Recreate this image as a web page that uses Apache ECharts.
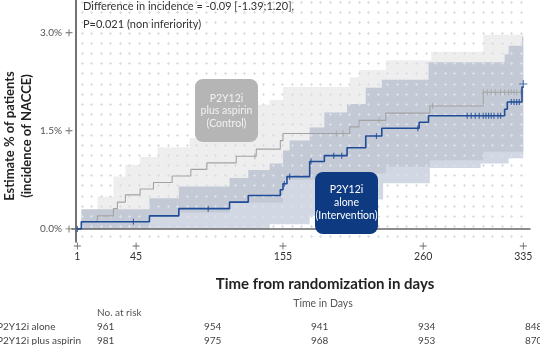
<!DOCTYPE html>
<html><head><meta charset="utf-8">
<script src="https://cdn.jsdelivr.net/npm/echarts@6/dist/echarts.min.js"></script>
<style>html,body{margin:0;padding:0;background:#fff}#c{width:540px;height:345px}</style>
</head><body><div id="c"></div>
<script>
// ---- data ----
const xTicks = [1, 45, 155, 260, 335];
const yTicks = [0, 1.5, 3.0];
const aloneCurve = [[1,0],[4,0.11],[55,0.20],[77,0.31],[115,0.41],[129,0.51],[153,0.60],[155,0.69],[158,0.80],[175,1.03],[186,1.12],[203,1.24],[217,1.42],[229,1.54],[257,1.63],[264,1.73],[321,1.83],[323,1.94],[334,2.17],[335,2.17]];
const aspirinCurve = [[1,0],[4,0.11],[16,0.20],[28,0.31],[31,0.41],[37,0.52],[48,0.61],[58,0.71],[72,0.81],[86,0.91],[98,1.01],[120,1.11],[135,1.22],[153,1.35],[155,1.46],[205,1.56],[212,1.66],[232,1.77],[265,1.88],[305,2.09],[335,2.09]];
const aloneCensor = [1, 43, 99, 156, 160, 176, 193, 199, 225, 256, 293, 296, 299, 302, 305, 307, 309, 311, 313, 316, 318, 326, 328, 330, 332];
const aspirinCensor = [134, 195, 200, 227, 267, 305, 308, 311, 314, 318, 321, 324, 326, 328, 330, 333];
const aspirinUpper = [[1,0],[4,0.30],[16,0.49],[28,0.80],[37,0.98],[48,1.10],[61,1.25],[85,1.39],[93,1.52],[104,1.71],[115,1.90],[145,1.97],[155,2.17],[205,2.32],[212,2.43],[232,2.58],[266,2.71],[305,2.97],[335,2.97]];
const aspirinLower = [[1,0],[55,0.20],[77,0.25],[115,0.40],[155,0.75],[205,0.85],[232,0.95],[265,1.05],[305,1.18],[335,1.18]];
const aloneUpper = [[1,0],[4,0.30],[55,0.47],[77,0.65],[115,0.78],[129,0.90],[145,1.00],[155,1.20],[160,1.35],[175,1.55],[186,1.78],[203,1.91],[217,2.16],[229,2.28],[264,2.55],[321,2.67],[324,2.80],[334,2.94],[335,2.94]];
const aloneLower = [[1,0],[145,0.07],[175,0.20],[203,0.45],[230,0.70],[265,0.93],[303,1.00],[324,1.08],[335,1.08]];
const atRiskAlone = [961, 954, 941, 934, 848];
const atRiskAspirin = [981, 975, 968, 953, 870];
const groupNames = ['P2Y12i alone', 'P2Y12i plus aspirin'];
const titleLines = ['Difference in incidence = -0.09 [-1.39;1.20],', 'P=0.021 (non inferiority)'];

// ---- helpers ----
const FONT = 'Lato, "Noto Sans", sans-serif';
function stepAt(curve, d) {
  let v = curve[0][1];
  for (const p of curve) { if (p[0] <= d) v = p[1]; else break; }
  return v;
}
function stepPts(curve) {
  const pts = [];
  for (let i = 0; i < curve.length; i++) {
    if (i > 0) pts.push([curve[i][0], curve[i-1][1]]);
    pts.push(curve[i]);
  }
  return pts;
}
function bandSeries(upper, lower, fill) {
  return {
    type: 'custom', z: 0, silent: true, data: [[0, 0]],
    renderItem: function (params, api) {
      const up = stepPts(upper).map(p => api.coord(p));
      const lo = stepPts(lower).map(p => api.coord(p)).reverse();
      return { type: 'polygon', shape: { points: up.concat(lo) }, style: { fill: fill } };
    }
  };
}
const plusPath = 'path://M-0.5,-4h1v3.5h3.5v1h-3.5v3.5h-1v-3.5h-3.5v-1h3.5z';

// dot grid image
const dots = document.createElement('canvas');
dots.width = 540; dots.height = 345;
(function () {
  const g = dots.getContext('2d');
  g.strokeStyle = '#dcdfe7'; g.lineWidth = 1;
  for (let y = 42.7 - 10.2 * 4; y < 242; y += 10.2) {
    for (let x = 81.7; x < 530; x += 9.55) {
      const cx = Math.round(x) + 0.5, cy = Math.round(y) + 0.5;
      g.beginPath();
      g.moveTo(cx - 1.5, cy); g.lineTo(cx + 1.5, cy);
      g.moveTo(cx, cy - 1.5); g.lineTo(cx, cy + 1.5);
      g.stroke();
    }
  }
})();

const chart = echarts.init(document.getElementById('c'), null, { renderer: 'canvas' });
const graphics = [
  { type: 'image', z: 1, silent: true, style: { image: dots, x: 0, y: 0, width: 540, height: 345 } },
  { type: 'text', z: 1, x: 83, y: 6, style: { text: titleLines[0], font: '11px ' + FONT, fill: '#333', verticalAlign: 'middle' } },
  { type: 'text', z: 1, x: 83, y: 24, style: { text: titleLines[1], font: '11px ' + FONT, fill: '#333', verticalAlign: 'middle' } },
  { type: 'text', z: 1, x: 10, y: 136, rotation: Math.PI / 2, style: { text: 'Estimate % of patients', font: 'bold 13px ' + FONT, fill: '#222', align: 'center', verticalAlign: 'middle' } },
  { type: 'text', z: 1, x: 27, y: 136, rotation: Math.PI / 2, style: { text: '(incidence of NACCE)', font: 'bold 13px ' + FONT, fill: '#222', align: 'center', verticalAlign: 'middle' } },
  { type: 'text', z: 1, x: 325, y: 284, style: { text: 'Time from randomization in days', font: 'bold 15px ' + FONT, fill: '#222', align: 'center', verticalAlign: 'middle' } },
  { type: 'text', z: 1, x: 323, y: 304, style: { text: 'Time in Days', font: '10.5px ' + FONT, fill: '#555', align: 'center', verticalAlign: 'middle' } },
  { type: 'text', z: 1, x: 97, y: 313, style: { text: 'No. at risk', font: '10px ' + FONT, fill: '#555', verticalAlign: 'middle' } },
  { type: 'text', z: 1, x: -3, y: 327, style: { text: groupNames[0], font: '10px ' + FONT, fill: '#444', verticalAlign: 'middle' } },
  { type: 'text', z: 1, x: -3, y: 341, style: { text: groupNames[1], font: '10px ' + FONT, fill: '#444', verticalAlign: 'middle' } },
  { type: 'rect', z: 20, shape: { x: 195, y: 79, width: 63, height: 63, r: 8 }, style: { fill: '#b5b5b5' } },
  { type: 'text', z: 21, x: 226.5, y: 111, style: { text: 'P2Y12i\nplus aspirin\n(Control)', font: '10.5px ' + FONT, lineHeight: 12.5, fill: '#f2f2f2', align: 'center', verticalAlign: 'middle' } },
  { type: 'rect', z: 20, shape: { x: 315, y: 172, width: 63, height: 62, r: 8 }, style: { fill: '#0d3a80' } },
  { type: 'text', z: 21, x: 346.5, y: 203, style: { text: 'P2Y12i\nalone\n(Intervention)', font: '10.5px ' + FONT, lineHeight: 13, fill: '#ffffff', align: 'center', verticalAlign: 'middle' } }
];
atRiskAlone.forEach((n, i) => graphics.push({ type: 'text', z: 1, x: 97 + 107 * i, y: 327, style: { text: String(n), font: '10px ' + FONT, fill: '#444', verticalAlign: 'middle' } }));
atRiskAspirin.forEach((n, i) => graphics.push({ type: 'text', z: 1, x: 97 + 107 * i, y: 341, style: { text: String(n), font: '10px ' + FONT, fill: '#444', verticalAlign: 'middle' } }));

chart.setOption({
  animation: false,
  backgroundColor: '#fff',
  grid: { left: 72, right: 10, top: 0, bottom: 103 },
  xAxis: {
    type: 'value', min: -3, max: 340,
    axisLine: { show: true, lineStyle: { color: '#666', width: 1.5 } },
    axisTick: { show: false },
    splitLine: { show: false },
    axisLabel: { customValues: xTicks, margin: 9, color: '#333', fontSize: 10.5, fontFamily: FONT }
  },
  yAxis: {
    type: 'value', min: -0.2, max: 3.5,
    axisLine: { show: true, lineStyle: { color: '#444', width: 1.5 } },
    axisTick: { show: false },
    splitLine: { show: false },
    axisLabel: { customValues: yTicks, margin: 10, color: '#555', fontSize: 10, fontFamily: FONT, formatter: v => v.toFixed(1) + '%' }
  },
  graphic: { z: 1, elements: graphics },
  series: [
    bandSeries(aspirinUpper, aspirinLower, 'rgba(0,0,0,0.065)'),
    bandSeries(aloneUpper, aloneLower, 'rgba(25,55,115,0.2)'),
    { type: 'line', step: 'end', data: aspirinCurve, showSymbol: false, z: 3, lineStyle: { color: '#a3a3a3', width: 1.1 } },
    { type: 'line', step: 'end', data: aloneCurve, showSymbol: false, z: 4, lineStyle: { color: '#1f4c96', width: 1.6 } },
    { type: 'scatter', z: 3, data: aspirinCensor.map(d => [d, stepAt(aspirinCurve, d)]), symbol: 'rect', symbolSize: [1, 6], itemStyle: { color: '#a3a3a3' } },
    { type: 'scatter', z: 4, data: aloneCensor.map(d => [d, stepAt(aloneCurve, d)]), symbol: 'rect', symbolSize: [1.2, 6], itemStyle: { color: '#1f4c96' } },
    { type: 'scatter', z: 5, clip: false, data: [[335, stepAt(aloneCurve, 335)]], symbol: plusPath, symbolSize: 8, symbolOffset: [0, -3], itemStyle: { color: '#1f4c96' } },
    { type: 'scatter', z: 5, clip: false, data: xTicks.map(d => [d, -0.2]), symbol: plusPath, symbolSize: 7, symbolOffset: [0, 4], itemStyle: { color: '#444' } },
    { type: 'scatter', z: 5, clip: false, data: yTicks.map(v => [-3, v]), symbol: plusPath, symbolSize: 7, symbolOffset: [-3, 0], itemStyle: { color: '#444' } }
  ]
});
</script>
</body></html>
